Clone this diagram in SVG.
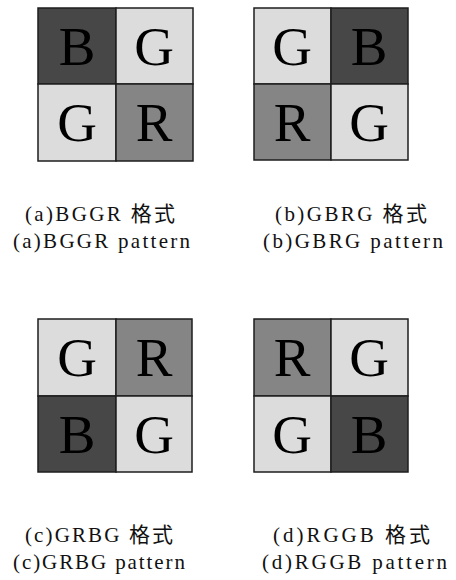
<svg xmlns="http://www.w3.org/2000/svg" width="456" height="580" viewBox="0 0 456 580">
<style>
.cell{stroke:#1e1e1e;stroke-width:1.5}
.B{fill:#474747}.G{fill:#dcdcdc}.R{fill:#858585}
.L{font-family:"Liberation Serif","Times New Roman",serif;font-size:55px;fill:#000;text-anchor:middle}
.cap{font-family:"Liberation Serif","Noto Sans CJK SC",serif;font-size:21px;fill:#111}
</style>
<rect width="456" height="580" fill="#fff"/>
<g id="bggr">
<rect class="cell B" x="38" y="8" width="78" height="76"/>
<rect class="cell G" x="116" y="8" width="77" height="76"/>
<rect class="cell G" x="38" y="84" width="78" height="77"/>
<rect class="cell R" x="116" y="84" width="77" height="77"/>
<text class="L" x="77" y="65">B</text>
<text class="L" x="154" y="65">G</text>
<text class="L" x="77" y="141">G</text>
<text class="L" x="154" y="141">R</text>
<text class="cap" x="25" y="221" textLength="150" lengthAdjust="spacing">(a)BGGR 格式</text>
<text class="cap" x="13" y="248" textLength="177" lengthAdjust="spacing">(a)BGGR pattern</text>
</g>
<g id="gbrg">
<rect class="cell G" x="254" y="8" width="77" height="76"/>
<rect class="cell B" x="331" y="8" width="77" height="76"/>
<rect class="cell R" x="254" y="84" width="77" height="76"/>
<rect class="cell G" x="331" y="84" width="77" height="76"/>
<text class="L" x="292" y="65">G</text>
<text class="L" x="369" y="65">B</text>
<text class="L" x="292" y="141">R</text>
<text class="L" x="369" y="141">G</text>
<text class="cap" x="275" y="221" textLength="152" lengthAdjust="spacing">(b)GBRG 格式</text>
<text class="cap" x="263" y="248" textLength="180" lengthAdjust="spacing">(b)GBRG pattern</text>
</g>
<g id="grbg">
<rect class="cell G" x="38" y="319" width="78" height="77"/>
<rect class="cell R" x="116" y="319" width="76" height="77"/>
<rect class="cell B" x="38" y="396" width="78" height="76"/>
<rect class="cell G" x="116" y="396" width="76" height="76"/>
<text class="L" x="77" y="376">G</text>
<text class="L" x="154" y="376">R</text>
<text class="L" x="77" y="453">B</text>
<text class="L" x="154" y="453">G</text>
<text class="cap" x="25" y="542" textLength="148" lengthAdjust="spacing">(c)GRBG 格式</text>
<text class="cap" x="13" y="569" textLength="172" lengthAdjust="spacing">(c)GRBG pattern</text>
</g>
<g id="rggb">
<rect class="cell R" x="254" y="319" width="77" height="77"/>
<rect class="cell G" x="331" y="319" width="77" height="77"/>
<rect class="cell G" x="254" y="396" width="77" height="76"/>
<rect class="cell B" x="331" y="396" width="77" height="76"/>
<text class="L" x="292" y="376">R</text>
<text class="L" x="369" y="376">G</text>
<text class="L" x="292" y="453">G</text>
<text class="L" x="369" y="453">B</text>
<text class="cap" x="273" y="542" textLength="157" lengthAdjust="spacing">(d)RGGB 格式</text>
<text class="cap" x="262" y="569" textLength="185" lengthAdjust="spacing">(d)RGGB pattern</text>
</g>
<g id="connectors"/>
</svg>
